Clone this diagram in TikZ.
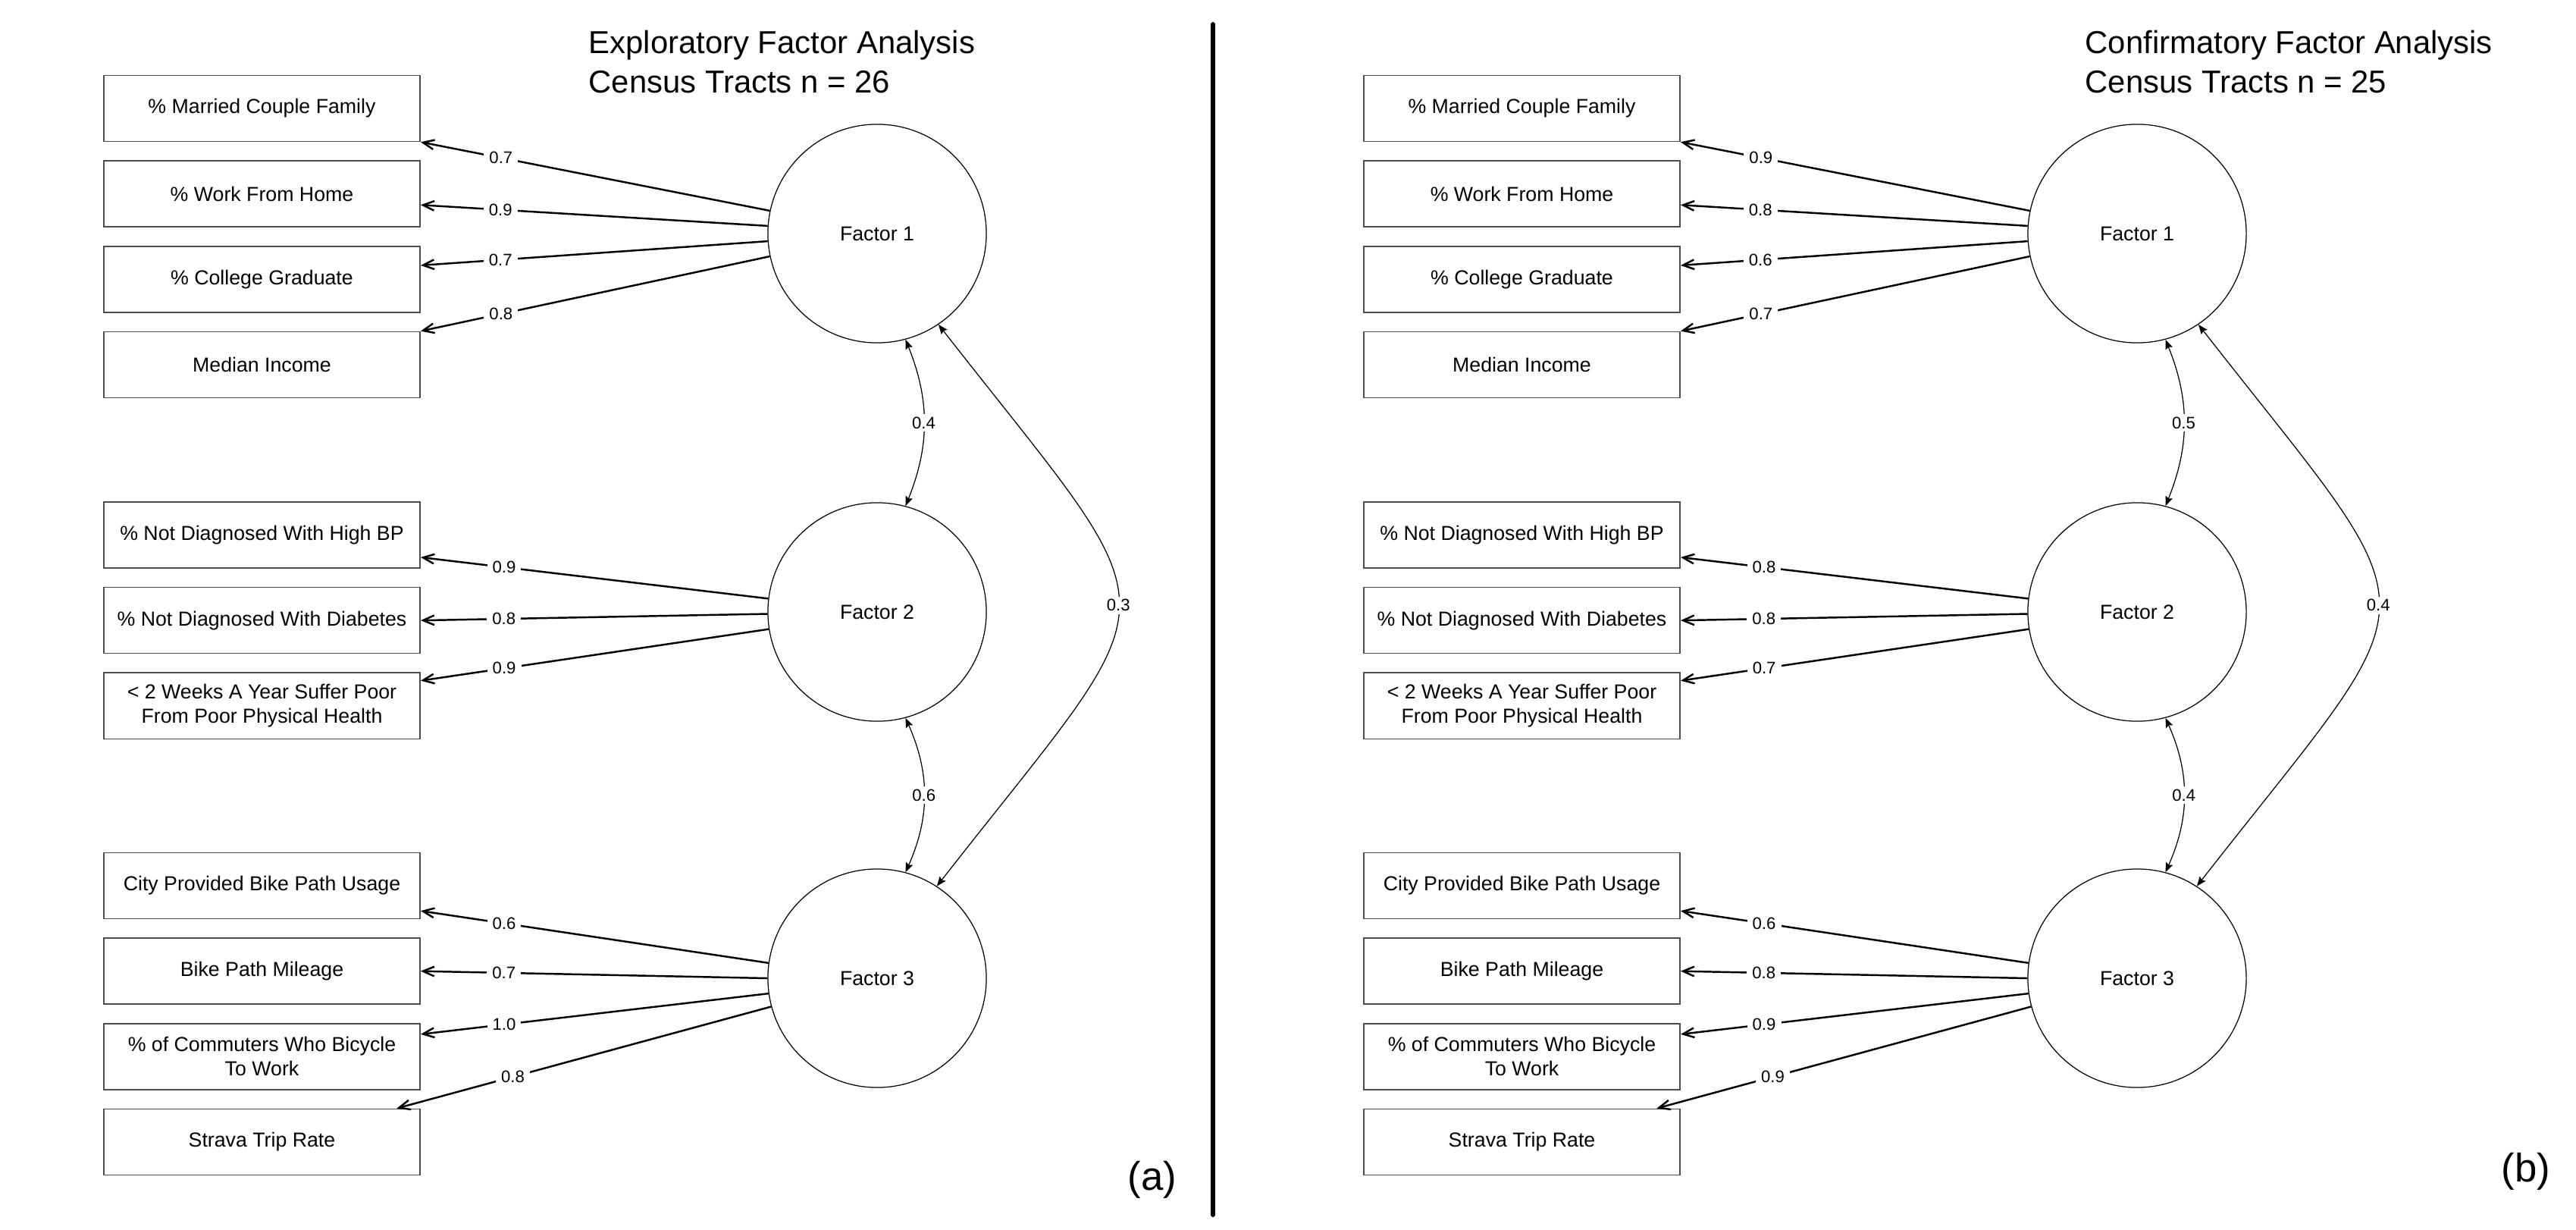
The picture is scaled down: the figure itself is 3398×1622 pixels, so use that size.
\documentclass[tikz,border=0pt]{standalone}
\usepackage{fontspec}
\setmainfont{Liberation Sans}
\usetikzlibrary{arrows.meta,positioning}

\tikzset{
 item/.style={draw=black!70, line width=0.45pt, minimum width=4.17cm, minimum height=0.87cm,
   inner sep=0pt, align=center, font=\fontsize{7.6}{9.1}\selectfont},
 factor/.style={circle, draw, line width=0.35pt, minimum size=2.88cm, inner sep=0pt,
   font=\fontsize{7.6}{9.1}\selectfont},
 load/.style={line width=0.7pt, -{Straight Barb[length=4.2pt,width=3.6pt]}},
 corr/.style={line width=0.35pt,
   {Stealth[length=3.6pt,width=2.8pt,inset=0.6pt]}-{Stealth[length=3.6pt,width=2.8pt,inset=0.6pt]}},
 lbl/.style={fill=white, inner xsep=2pt, inner ysep=1pt, font=\fontsize{6.3}{7.5}\selectfont},
 ttl/.style={anchor=west, align=left, inner sep=0pt, font=\fontsize{11.9}{14.8}\selectfont},
 tag/.style={inner sep=0pt, font=\fontsize{15}{18}\selectfont}
}

\begin{document}
\begin{tikzpicture}[x=0.01cm, y=0.01cm, node distance=0.24cm]
 \useasboundingbox (0,0) rectangle (3398,-1622);

 % (a) exploratory
 \node[ttl] (ttlA) at (776,-82) {Exploratory Factor Analysis\\Census Tracts n = 26};

 \node[item] (a1) at (345.5,-143) {\% Married Couple Family};
 \node[item] (a2) [below=of a1] {\% Work From Home};
 \node[item] (a3) [below=of a2] {\% College Graduate};
 \node[item] (a4) [below=of a3] {Median Income};

 \node[item] (a5) at (345.5,-705.5) {\% Not Diagnosed With High BP};
 \node[item] (a6) [below=of a5] {\% Not Diagnosed With Diabetes};
 \node[item] (a7) [below=of a6] {< 2 Weeks A Year Suffer Poor\\From Poor Physical Health};

 \node[item] (a8) at (345.5,-1168) {City Provided Bike Path Usage};
 \node[item] (a9) [below=of a8] {Bike Path Mileage};
 \node[item] (a10) [below=of a9] {\% of Commuters Who Bicycle\\To Work};
 \node[item] (a11) [below=of a10] {Strava Trip Rate};

 \node[factor] (fa1) at (1157,-308) {Factor 1};
 \node[factor] (fa2) at (1157,-807) {Factor 2};
 \node[factor] (fa3) at (1157,-1290) {Factor 3};

 \draw[load] (fa1.168) -- node[lbl,pos=0.77] {0.7} (a1.south east);
 \draw[load] (fa1.176) -- node[lbl,pos=0.77] {0.9} (a2.-4);
 \draw[load] (fa1.184) -- node[lbl,pos=0.77] {0.7} (a3.5);
 \draw[load] (fa1.192) -- node[lbl,pos=0.77] {0.8} (a4.north east);

 \draw[load] (fa2.173) -- node[lbl,pos=0.76] {0.9} (a5.-8);
 \draw[load] (fa2.181) -- node[lbl,pos=0.76] {0.8} (a6.east);
 \draw[load] (fa2.189) -- node[lbl,pos=0.76] {0.9} (a7.9);

 \draw[load] (fa3.172) -- node[lbl,pos=0.76] {0.6} (a8.-9);
 \draw[load] (fa3.180) -- node[lbl,pos=0.76] {0.7} (a9.east);
 \draw[load] (fa3.188) -- node[lbl,pos=0.76] {1.0} (a10.8);
 \draw[load] (fa3.195) -- node[lbl,pos=0.69] {0.8} (a11.14);

 \draw[corr] (fa1.-75) to[bend left=22] node[lbl] {0.4} (fa2.75);
 \draw[corr] (fa2.-75) to[bend left=24] node[lbl] {0.6} (fa3.75);
 \draw[corr] (fa1.-56) to[out=-52,in=52,looseness=1.78] node[lbl] {0.3} (fa3.57);

 \node[tag] (tagA) at (1520,-1556) {(a)};

 % divider
 \draw[line width=1.7pt, line cap=round] (1600,-32) -- (1600,-1602);

 % (b) confirmatory
 \node[ttl] (ttlB) at (2750,-82) {Confirmatory Factor Analysis\\Census Tracts n = 25};

 \node[item] (b1) at (2007.5,-143) {\% Married Couple Family};
 \node[item] (b2) [below=of b1] {\% Work From Home};
 \node[item] (b3) [below=of b2] {\% College Graduate};
 \node[item] (b4) [below=of b3] {Median Income};

 \node[item] (b5) at (2007.5,-705.5) {\% Not Diagnosed With High BP};
 \node[item] (b6) [below=of b5] {\% Not Diagnosed With Diabetes};
 \node[item] (b7) [below=of b6] {< 2 Weeks A Year Suffer Poor\\From Poor Physical Health};

 \node[item] (b8) at (2007.5,-1168) {City Provided Bike Path Usage};
 \node[item] (b9) [below=of b8] {Bike Path Mileage};
 \node[item] (b10) [below=of b9] {\% of Commuters Who Bicycle\\To Work};
 \node[item] (b11) [below=of b10] {Strava Trip Rate};

 \node[factor] (fb1) at (2819,-308) {Factor 1};
 \node[factor] (fb2) at (2819,-807) {Factor 2};
 \node[factor] (fb3) at (2819,-1290) {Factor 3};

 \draw[load] (fb1.168) -- node[lbl,pos=0.77] {0.9} (b1.south east);
 \draw[load] (fb1.176) -- node[lbl,pos=0.77] {0.8} (b2.-4);
 \draw[load] (fb1.184) -- node[lbl,pos=0.77] {0.6} (b3.5);
 \draw[load] (fb1.192) -- node[lbl,pos=0.77] {0.7} (b4.north east);

 \draw[load] (fb2.173) -- node[lbl,pos=0.76] {0.8} (b5.-8);
 \draw[load] (fb2.181) -- node[lbl,pos=0.76] {0.8} (b6.east);
 \draw[load] (fb2.189) -- node[lbl,pos=0.76] {0.7} (b7.9);

 \draw[load] (fb3.172) -- node[lbl,pos=0.76] {0.6} (b8.-9);
 \draw[load] (fb3.180) -- node[lbl,pos=0.76] {0.8} (b9.east);
 \draw[load] (fb3.188) -- node[lbl,pos=0.76] {0.9} (b10.8);
 \draw[load] (fb3.195) -- node[lbl,pos=0.69] {0.9} (b11.14);

 \draw[corr] (fb1.-75) to[bend left=22] node[lbl] {0.5} (fb2.75);
 \draw[corr] (fb2.-75) to[bend left=24] node[lbl] {0.4} (fb3.75);
 \draw[corr] (fb1.-56) to[out=-52,in=52,looseness=1.78] node[lbl] {0.4} (fb3.57);

 \node[tag] (tagB) at (3332,-1545) {(b)};
\end{tikzpicture}
\end{document}
